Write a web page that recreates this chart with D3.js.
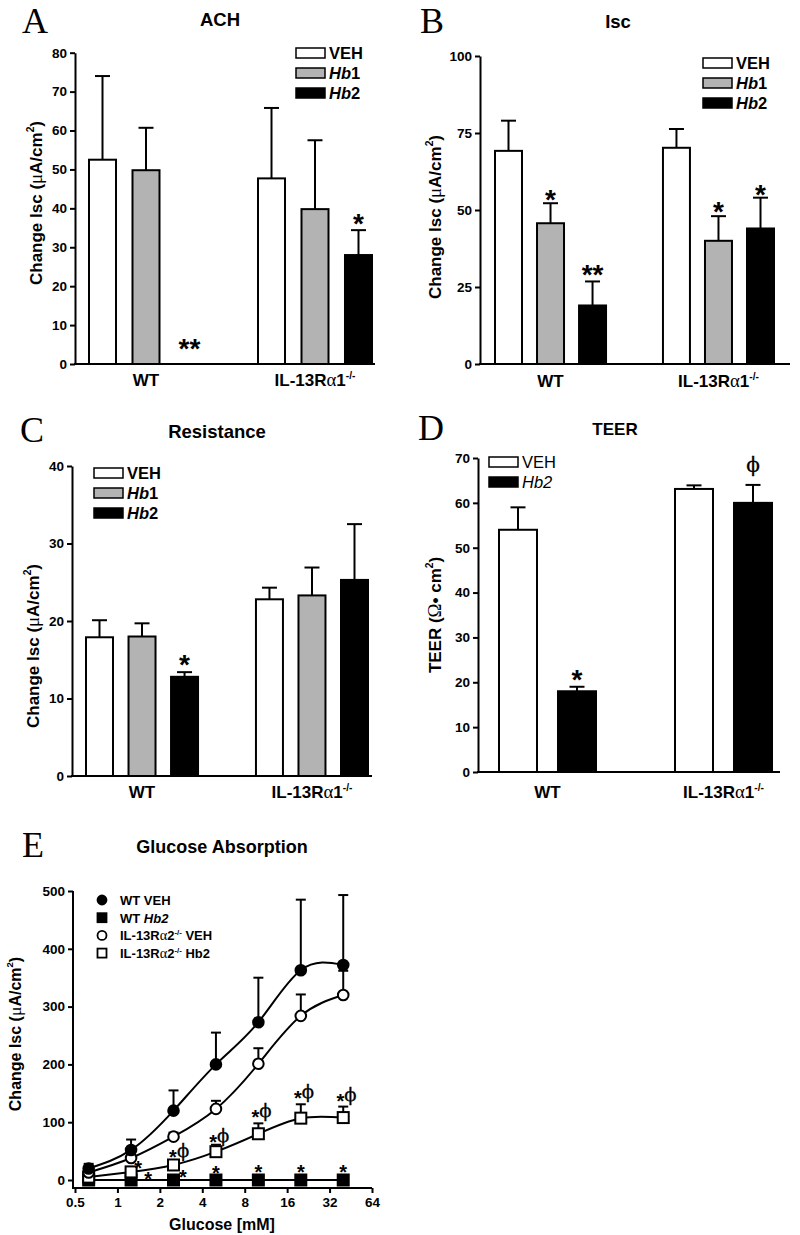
<!DOCTYPE html>
<html><head><meta charset="utf-8">
<script src="https://cdn.jsdelivr.net/npm/d3@7"></script>
<style>body{margin:0;background:#fff} svg{display:block}</style>
</head><body><svg id="c" width="800" height="1235"></svg>
<script>
// ---------- DATA ----------
const groups = ["WT", "IL-13Rα1-/-"];
const seriesABC = ["VEH", "Hb1", "Hb2"];
const seriesD = ["VEH", "Hb2"];

const achTicks = [0, 10, 20, 30, 40, 50, 60, 70, 80];
const achMean = [[52.5, 49.8, 0], [47.7, 39.8, 28]];
const achSem  = [[21.5, 10.9, 0], [18.1, 17.7, 6.4]];
const achMarks = [{g: 0, s: 2, text: "**", y: 5.6}, {g: 1, s: 2, text: "*", y: 37.7}];

const iscTicks = [0, 25, 50, 75, 100];
const iscMean = [[69.2, 45.7, 19], [70.2, 40, 44]];
const iscSem  = [[9.8, 6.5, 7.8], [6.1, 8, 10]];
const iscMarks = [{g: 0, s: 1, text: "*", y: 55.5}, {g: 0, s: 2, text: "**", y: 31.2},
                  {g: 1, s: 1, text: "*", y: 51.6}, {g: 1, s: 2, text: "*", y: 57.1}];

const resTicks = [0, 10, 20, 30, 40];
const resMean = [[17.9, 18, 12.8], [22.8, 23.3, 25.3]];
const resSem  = [[2.2, 1.7, 0.6], [1.5, 3.6, 7.2]];
const resMarks = [{g: 0, s: 2, text: "*", y: 15.2}];

const teerTicks = [0, 10, 20, 30, 40, 50, 60, 70];
const teerMean = [[54, 18], [63.1, 60]];
const teerSem  = [[5, 1], [0.8, 4]];
const teerMarks = [{g: 0, s: 1, text: "*", y: 22.1}, {g: 1, s: 1, text: "ϕ", y: 68}];

const glucose = [0.625, 1.25, 2.5, 5, 10, 20, 40];
const glucoseTicks = [0.5, 1, 2, 4, 8, 16, 32, 64];
const glucoseYTicks = [0, 100, 200, 300, 400, 500];
const wtVeh = [20, 52, 120, 200, 273, 363, 372];
const wtVehSem = [8, 18, 35, 55, 77, 122, 121];
const wtHb2 = [0, 0, 0, 0, 0, 0, 0];
const wtHb2Sem = [0, 0, 0, 0, 0, 0, 0];
const ilVeh = [13, 38, 75, 123, 201, 284, 320];
const ilVehSem = [2, 3, 7, 14, 27, 37, 42];
const ilHb2 = [5, 14, 26, 49, 80, 107, 108];
const ilHb2Sem = [1, 2, 4, 12, 18, 24, 19];
const eStars = [[1.40, 29], [1.65, 9], [2.92, 12], [5, 19], [10, 21], [20, 21], [40, 21]];
const ePhi = [[2.6, 48], [5, 74], [10, 116], [20, 150], [40, 144]];

// ---------- RENDER ----------
const FONT = "'Liberation Sans', Arial, Helvetica, sans-serif";
const SERIF = "'Liberation Serif', 'DejaVu Serif', 'Times New Roman', serif";
const PHI = "'DejaVu Serif', serif";
const fills = {VEH: "#ffffff", Hb1: "#b3b3b3", Hb2: "#000000"};
const svg = d3.select("#c");
svg.append("rect").attr("width", 800).attr("height", 1235).attr("fill", "#fff");

function rich(sel, str, supShift) {
  const parts = str.split(/(α|μ|Ω|\^\S|-\/-)/).filter(p => p !== "");
  let raised = 0;
  parts.forEach(p => {
    const t = sel.append("tspan");
    if (p === "α" || p === "μ" || p === "Ω") {
      t.attr("font-family", SERIF).attr("font-weight", "normal").attr("font-size", "1.1em").text(p);
    } else if (p.startsWith("^") || p === "-/-") {
      t.attr("font-size", "0.6em").attr("dy", -supShift).text(p.startsWith("^") ? p.slice(1) : p);
      raised = supShift; return;
    } else t.text(p);
    if (raised) { t.attr("dy", raised); raised = 0; }
  });
}

function seriesLabel(sel, name, allItalic) {
  const m = name.match(/^(.*?)(Hb)(\d)$/);
  if (!m) { sel.text(name); return; }
  if (m[1]) sel.append("tspan").text(m[1]);
  sel.append("tspan").attr("font-style", "italic").text(m[2]);
  sel.append("tspan").attr("font-style", allItalic ? "italic" : "normal").text(m[3]);
}

function letter(txt, x, y) {
  svg.append("text").attr("x", x).attr("y", y).attr("font-family", SERIF)
    .attr("font-size", 36).text(txt);
}
function title(txt, x, y, fs) {
  svg.append("text").attr("x", x).attr("y", y).attr("text-anchor", "middle")
    .attr("font-family", FONT).attr("font-weight", "bold").attr("font-size", fs).text(txt);
}
function yLabel(str, x, y, fs) {
  const t = svg.append("text").attr("transform", `translate(${x},${y}) rotate(-90)`)
    .attr("text-anchor", "middle").attr("font-family", FONT).attr("font-weight", "bold")
    .attr("font-size", fs);
  rich(t, str, 8);
}
function styleAxis(a, fs) {
  a.attr("font-family", FONT).attr("font-size", fs).attr("font-weight", "bold");
  a.selectAll(".tick line").attr("stroke", "#000").attr("stroke-width", 2);
  a.selectAll(".tick text").attr("fill", "#000");
  a.select(".domain").attr("stroke", "#000").attr("stroke-width", 2);
}
function markText(g, x, y, text, starFs, phiFs, anchor) {
  if (text === "ϕ") {
    g.append("text").attr("x", x).attr("y", y).attr("dy", "0.25em").attr("text-anchor", anchor || "middle")
      .attr("font-family", PHI).attr("fill", "#000").attr("stroke", "#000").attr("stroke-width", 0.3)
      .attr("font-size", phiFs).text(text);
  } else {
    g.append("text").attr("x", x).attr("y", y).attr("dy", "0.57em").attr("text-anchor", anchor || "middle")
      .attr("font-family", FONT).attr("font-weight", "bold").attr("font-size", starFs).text(text);
  }
}

function barPanel(o) {
  const g = svg.append("g");
  const y = d3.scaleLinear().domain([0, o.max]).range([o.yBottom, o.yTop]);
  const gx = d3.scaleBand().domain(groups).range(o.groupRange).paddingInner(o.groupPad);
  const sx = d3.scaleBand().domain(o.series).range([0, gx.bandwidth()]).paddingInner(o.innerPad);
  const bw = sx.bandwidth();
  groups.forEach((grp, gi) => {
    o.series.forEach((s, si) => {
      const v = o.means[gi][si], e = o.sems[gi][si];
      const x = gx(grp) + sx(s), cx = x + bw / 2;
      if (e > 0) {
        g.append("line").attr("x1", cx).attr("x2", cx).attr("y1", y(v)).attr("y2", y(v + e))
          .attr("stroke", "#000").attr("stroke-width", 2);
        g.append("line").attr("x1", cx - 7.5).attr("x2", cx + 7.5).attr("y1", y(v + e)).attr("y2", y(v + e))
          .attr("stroke", "#000").attr("stroke-width", 2);
      }
      if (v > 0) {
        g.append("rect").attr("x", x + 1).attr("y", y(v)).attr("width", bw - 2)
          .attr("height", y(0) - y(v)).attr("fill", fills[s]).attr("stroke", "#000").attr("stroke-width", 2);
      }
    });
  });
  o.marks.forEach(m => {
    const cx = gx(groups[m.g]) + sx(o.series[m.s]) + bw / 2;
    markText(g, cx, y(m.y), m.text, 28, 20);
  });
  const ay = g.append("g").attr("transform", `translate(${o.x0},0)`)
    .call(d3.axisLeft(y).tickValues(o.ticks).tickSize(5).tickSizeOuter(0).tickPadding(3));
  styleAxis(ay, 13.5);
  g.append("line").attr("x1", o.x0 - 1).attr("x2", o.x1).attr("y1", y(0)).attr("y2", y(0))
    .attr("stroke", "#000").attr("stroke-width", 2);
  groups.forEach(grp => {
    const t = g.append("text").attr("x", gx(grp) + gx.bandwidth() / 2).attr("y", y(0) + o.xlabDy)
      .attr("text-anchor", "middle").attr("font-family", FONT).attr("font-weight", "bold")
      .attr("font-size", 17);
    rich(t, grp, 7);
  });
  o.series.forEach((s, i) => {
    const ly = o.legY + i * 20;
    g.append("rect").attr("x", o.legX).attr("y", ly).attr("width", 29).attr("height", 10)
      .attr("fill", fills[s]).attr("stroke", "#000").attr("stroke-width", 1.5);
    const t = g.append("text").attr("x", o.legX + 33).attr("y", ly + 10.5).attr("font-family", FONT)
      .attr("font-weight", o.legWeight || "bold").attr("font-size", 16.5);
    seriesLabel(t, s, o.allItalic);
  });
}

// Panel A
letter("A", 22, 33); title("ACH", 220, 26, 18.5);
yLabel("Change Isc (μA/cm^2)", 42, 203, 17);
barPanel({x0: 75, x1: 375, yTop: 52.7, yBottom: 364, max: 80, ticks: achTicks, series: seriesABC,
  means: achMean, sems: achSem, marks: achMarks, groupRange: [88, 373], groupPad: 0.3136, innerPad: 0.333,
  xlabDy: 22, legX: 296, legY: 48});

// Panel B
letter("B", 420, 33); title("Isc", 618, 28, 18.5);
yLabel("Change Isc (μA/cm^2)", 441, 217, 17);
barPanel({x0: 480, x1: 790, yTop: 56, yBottom: 364, max: 100, ticks: iscTicks, series: seriesABC,
  means: iscMean, sems: iscSem, marks: iscMarks, groupRange: [494, 775], groupPad: 0.327, innerPad: 0.31,
  xlabDy: 23, legX: 703, legY: 58});

// Panel C
letter("C", 20, 442); title("Resistance", 217, 438, 18.5);
yLabel("Change Isc (μA/cm^2)", 39, 646, 17);
barPanel({x0: 72, x1: 372, yTop: 466, yBottom: 776, max: 40, ticks: resTicks, series: seriesABC,
  means: resMean, sems: resSem, marks: resMarks, groupRange: [85, 369], groupPad: 0.329, innerPad: 0.318,
  xlabDy: 22, legX: 94, legY: 468});

// Panel D
letter("D", 418, 440); title("TEER", 615, 435, 17);
yLabel("TEER (Ω• cm^2)", 441, 615, 17);
barPanel({x0: 478, x1: 780, yTop: 458, yBottom: 772, max: 70, ticks: teerTicks, series: seriesD,
  means: teerMean, sems: teerSem, marks: teerMarks, groupRange: [498, 773], groupPad: 0.4375, innerPad: 0.322,
  xlabDy: 26, legX: 489, legY: 457, legWeight: "normal", allItalic: true});

// Panel E
letter("E", 22, 857); title("Glucose Absorption", 222, 853, 18);
yLabel("Change Isc (μA/cm^2)", 21, 1034, 16);
(function () {
  const g = svg.append("g");
  const x = d3.scaleLog().base(2).domain([0.5, 64]).range([75, 372]);
  const y = d3.scaleLinear().domain([0, 500]).range([1180, 891]);
  const axisY = 1188, axisX = 73;
  const ay = g.append("g").attr("transform", `translate(${axisX},0)`)
    .call(d3.axisLeft(y).tickValues(glucoseYTicks).tickSize(5).tickSizeOuter(0).tickPadding(3));
  styleAxis(ay, 13.5); ay.select(".domain").remove();
  const ax = g.append("g").attr("transform", `translate(0,${axisY})`)
    .call(d3.axisBottom(x).tickValues(glucoseTicks).tickFormat(d => String(d)).tickSize(5).tickSizeOuter(0).tickPadding(4));
  styleAxis(ax, 13.5); ax.select(".domain").remove();
  g.append("line").attr("x1", axisX).attr("x2", axisX).attr("y1", y(500)).attr("y2", axisY + 1)
    .attr("stroke", "#000").attr("stroke-width", 2);
  g.append("line").attr("x1", axisX).attr("x2", x(64)).attr("y1", axisY).attr("y2", axisY)
    .attr("stroke", "#000").attr("stroke-width", 2);
  g.append("text").attr("x", 222).attr("y", 1230).attr("text-anchor", "middle").attr("font-family", FONT)
    .attr("font-weight", "bold").attr("font-size", 16).text("Glucose [mM]");

  const sets = [
    {vals: wtHb2, sem: wtHb2Sem, shape: "square", filled: true, curve: d3.curveLinear},
    {vals: ilHb2, sem: ilHb2Sem, shape: "square", filled: false, curve: d3.curveNatural},
    {vals: ilVeh, sem: ilVehSem, shape: "circle", filled: false, curve: d3.curveNatural},
    {vals: wtVeh, sem: wtVehSem, shape: "circle", filled: true, curve: d3.curveNatural}
  ];
  sets.forEach(s => {
    glucose.forEach((c, i) => {
      if (s.sem[i] <= 0) return;
      const cx = x(c), y1 = y(s.vals[i]), y2 = y(s.vals[i] + s.sem[i]);
      g.append("line").attr("x1", cx).attr("x2", cx).attr("y1", y1).attr("y2", y2).attr("stroke", "#000").attr("stroke-width", 2);
      g.append("line").attr("x1", cx - 5).attr("x2", cx + 5).attr("y1", y2).attr("y2", y2).attr("stroke", "#000").attr("stroke-width", 2);
    });
  });
  sets.forEach(s => {
    const line = d3.line().x((d, i) => x(glucose[i])).y(d => y(d)).curve(s.curve);
    g.append("path").attr("d", line(s.vals)).attr("fill", "none").attr("stroke", "#000").attr("stroke-width", 2);
  });
  function marker(cx, cy, shape, filled) {
    if (shape === "circle") {
      g.append("circle").attr("cx", cx).attr("cy", cy).attr("r", 5.3)
        .attr("fill", filled ? "#000" : "#fff").attr("stroke", "#000").attr("stroke-width", 2);
    } else {
      g.append("rect").attr("x", cx - 5.5).attr("y", cy - 5.5).attr("width", 11).attr("height", 11)
        .attr("fill", filled ? "#000" : "#fff").attr("stroke", "#000").attr("stroke-width", 2);
    }
  }
  sets.forEach(s => glucose.forEach((c, i) => marker(x(c), y(s.vals[i]), s.shape, s.filled)));
  eStars.forEach(d => markText(g, x(d[0]), y(d[1]), "*", 20, 16));
  ePhi.forEach(d => {
    markText(g, x(d[0]) + 1, y(d[1]), "*", 20, 18, "end");
    markText(g, x(d[0]) + 1, y(d[1]), "ϕ", 20, 18, "start");
  });
  const legend = [
    {label: "WT VEH", shape: "circle", filled: true},
    {label: "WT Hb2", shape: "square", filled: true},
    {label: "IL-13Rα2-/- VEH", shape: "circle", filled: false},
    {label: "IL-13Rα2-/- Hb2", shape: "square", filled: false}
  ];
  legend.forEach((l, i) => {
    const cy = 900 + i * 17.7;
    if (l.shape === "circle") {
      g.append("circle").attr("cx", 102).attr("cy", cy).attr("r", 4.5)
        .attr("fill", l.filled ? "#000" : "#fff").attr("stroke", "#000").attr("stroke-width", 1.8);
    } else {
      g.append("rect").attr("x", 97.5).attr("y", cy - 4.5).attr("width", 9).attr("height", 9)
        .attr("fill", l.filled ? "#000" : "#fff").attr("stroke", "#000").attr("stroke-width", 1.8);
    }
    const t = g.append("text").attr("x", 120).attr("y", cy + 5).attr("font-family", FONT)
      .attr("font-weight", "bold").attr("font-size", 13);
    if (l.label === "WT Hb2") {
      t.append("tspan").text("WT ");
      t.append("tspan").attr("font-style", "italic").text("Hb2");
    } else rich(t, l.label, 5);
  });
})();
</script>
</body></html>
